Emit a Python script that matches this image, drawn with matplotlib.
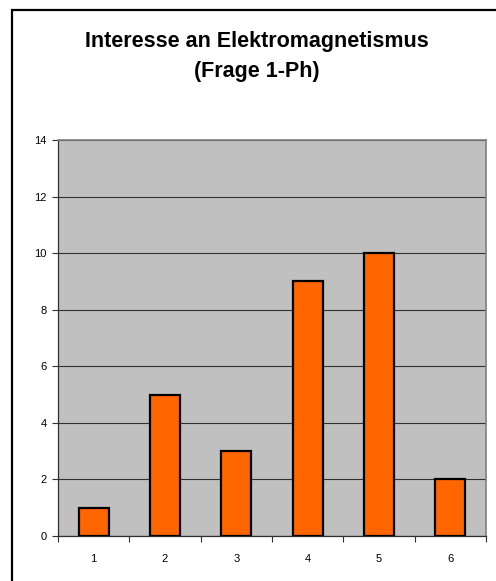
import matplotlib.pyplot as plt
from matplotlib.patches import Rectangle
import numpy as np

# Antworten auf Frage 1 (Skala 1-6)
kategorien = ["1", "2", "3", "4", "5", "6"]
anzahl = [1, 5, 3, 9, 10, 2]
y_ticks = [0, 2, 4, 6, 8, 10, 12, 14]

plt.rcParams['font.family'] = ['Liberation Sans', 'DejaVu Sans']

W, H = 496, 581
fig = plt.figure(figsize=(W / 100, H / 100), dpi=100)
fig.patch.set_facecolor("white")

# Rahmen um das ganze Diagramm (rechts und unten abgeschnitten)
fig.patches.append(Rectangle((12 / W, -0.1), 1.2, 1 - 10 / H + 0.1,
                             transform=fig.transFigure, fill=False,
                             edgecolor="black", linewidth=1.6, clip_on=False))

ax = fig.add_axes([58 / W, 45 / H, 428 / W, 396 / H])
ax.set_facecolor("#c0c0c0")

x = np.arange(len(kategorien))
ax.bar(x, anzahl, width=0.42, color="#ff6600", edgecolor="black",
       linewidth=1.6, zorder=3)

ax.set_xlim(-0.5, len(kategorien) - 0.5)
ax.set_ylim(0, 14)
ax.set_yticks(y_ticks)
ax.set_yticklabels([str(v) for v in y_ticks])
ax.yaxis.grid(True, color="#303030", linewidth=0.8, zorder=1)
ax.set_axisbelow(True)

# Striche zwischen den Kategorien, Beschriftung mittig
ax.set_xticks(np.arange(len(kategorien) + 1) - 0.5)
ax.set_xticklabels([])
ax.set_xticks(x, minor=True)
ax.set_xticklabels(kategorien, minor=True)
ax.tick_params(axis="x", which="major", direction="out", length=4,
               width=0.8, color="#303030")
ax.tick_params(axis="x", which="minor", length=0, pad=13, labelsize=8)
ax.tick_params(axis="y", direction="out", length=4, width=0.8,
               color="#303030", pad=4, labelsize=8)

for s in ["left", "bottom"]:
    ax.spines[s].set_color("#303030")
    ax.spines[s].set_linewidth(0.9)
for s in ["top", "right"]:
    ax.spines[s].set_color("#808080")
    ax.spines[s].set_linewidth(1.2)

fig.text(257 / W, 1 - 42 / H, "Interesse an Elektromagnetismus",
         ha="center", va="center", fontsize=15.5, fontweight="bold")
fig.text(257 / W, 1 - 72 / H, "(Frage 1-Ph)",
         ha="center", va="center", fontsize=15.5, fontweight="bold")

fig.savefig("out.png", dpi=100)
